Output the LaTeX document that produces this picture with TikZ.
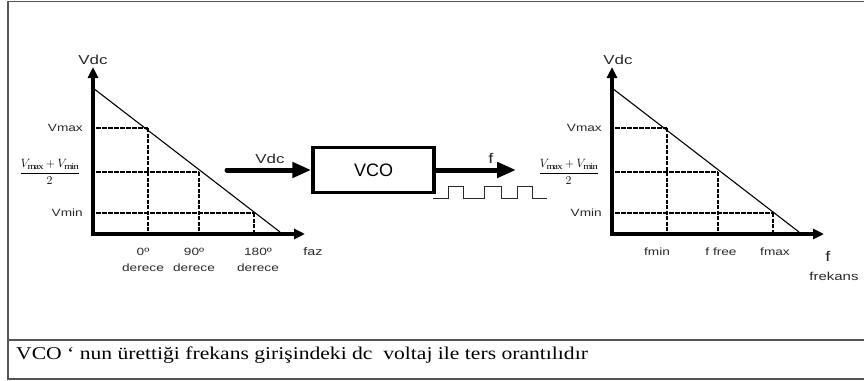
\documentclass[tikz,border=0pt]{standalone}
\usepackage{amsmath}
\usepackage{fontspec}
\setmainfont{Liberation Serif}[FakeStretch=1.2]
\setsansfont{Liberation Sans}
\newfontfamily\lblfont{Liberation Sans}[FakeStretch=1.3]
\usetikzlibrary{arrows.meta,positioning,calc}
\definecolor{framegray}{RGB}{85,85,85}
\definecolor{lblgray}{RGB}{40,40,40}

\begin{document}
\begin{tikzpicture}[x=1pt, y=-1pt,
  axis/.style={line width=4pt, -{Triangle[length=11pt,width=10pt]}},
  sig/.style={line width=5pt, line cap=round, -{Triangle[length=19pt,width=15pt]}},
  hdash/.style={line width=2.5pt, dash pattern=on 4.5pt off 1.5pt},
  vdash/.style={line width=1.9pt, dash pattern=on 4pt off 1.5pt},
  lbl/.style={font=\lblfont\fontsize{10.5}{15.5}\selectfont, text=lblgray, inner sep=0pt, align=center},
  lblbig/.style={font=\lblfont\fontsize{13}{15}\selectfont, text=lblgray, inner sep=0pt},
  fraclbl/.style={font=\fontsize{12.5}{14}\selectfont, inner sep=0pt, anchor=east}]
  \useasboundingbox (0,0) rectangle (864,380);

  % outer frame and caption row
  \draw[framegray, line width=1.4pt] (868,1.5) -- (8,1.5) -- (8,379) -- (868,379);
  \draw[framegray, line width=1.4pt] (8,340) -- (868,340);

  % the two graphs
  \foreach \gx/\gn in {0/L,519/R}{
    \begin{scope}[xshift=\gx]
      \coordinate (top\gn) at (93,88);
      \coordinate (end\gn) at (280,232);
      \draw[axis] (93,236) -- (93,67);
      \draw[axis] (91,234) -- (305,234);
      \draw[line width=1.1pt] (top\gn) -- (end\gn);
      \draw[hdash] (96,128) -- (148,128);
      \draw[vdash] (148,128) -- (148,232);
      \draw[hdash] (96,172) -- (199,172);
      \draw[vdash] (199,172) -- (199,232);
      \draw[hdash] (96,213) -- (254,213);
      \draw[vdash] (254,213) -- (254,232);
      \node[lbl, anchor=east] (vmax\gn) at (83,128) {Vmax};
      \node[fraclbl] (vmid\gn) at (80,172) {$\dfrac{V_{\max}+V_{\min}}{2}$};
      \node[lbl, anchor=east] (vmin\gn) at (83,213) {Vmin};
    \end{scope}
  }
  \node[lblbig] (vdcL) at (93,60) {Vdc};
  \node[lblbig] (vdcR) at (618,60) {Vdc};

  % phase axis labels
  \node[lbl] (deg0) at (143,260) {0º\\derece};
  \node[lbl] (deg90) at (194,260) {90º\\derece};
  \node[lbl] (deg180) at (258,260) {180º\\derece};
  \node[lbl, font=\lblfont\fontsize{11}{13}\selectfont] (faz) at (313,252) {faz};

  % frequency axis labels
  \node[lbl] (fmin) at (657,252) {fmin};
  \node[lbl] (ffree) at (721,252) {f free};
  \node[lbl] (fmax) at (775,252) {fmax};
  \node[lblbig, font=\lblfont\fontsize{14}{16}\selectfont] (fax) at (828,256) {f};
  \node[lbl, font=\lblfont\fontsize{11.5}{14}\selectfont] (frekans) at (834,276) {frekans};

  % VCO block
  \node[draw, line width=3.5pt, minimum width=121pt, minimum height=45pt,
        font=\sffamily\fontsize{18}{20}\selectfont] (vco) at (373.5,170) {VCO};
  \coordinate (vin) at (227,170);
  \coordinate (fout) at (516,170);
  \draw[sig] (vin) -- (vco.west);
  \draw[sig] (vco.east) -- (fout);
  \node[lblbig] (vdcin) at (270,159) {Vdc};
  \node[lblbig, font=\lblfont\fontsize{14}{16}\selectfont] (fo) at (491,158) {f};
  \draw[line width=0.9pt, lblgray] (433,198) -- (448,198) -- (448,186) -- (463,186) -- (463,198)
    -- (484,198) -- (484,186) -- (501,186) -- (501,198) -- (517,198) -- (517,186)
    -- (532,186) -- (532,198) -- (547,198);

  \node[anchor=base west, inner sep=0pt, font=\fontsize{18}{20}\selectfont] (caption) at (16,359)
    {VCO ‘ nun ürettiği frekans girişindeki dc~ voltaj ile ters orantılıdır};
\end{tikzpicture}
\end{document}
